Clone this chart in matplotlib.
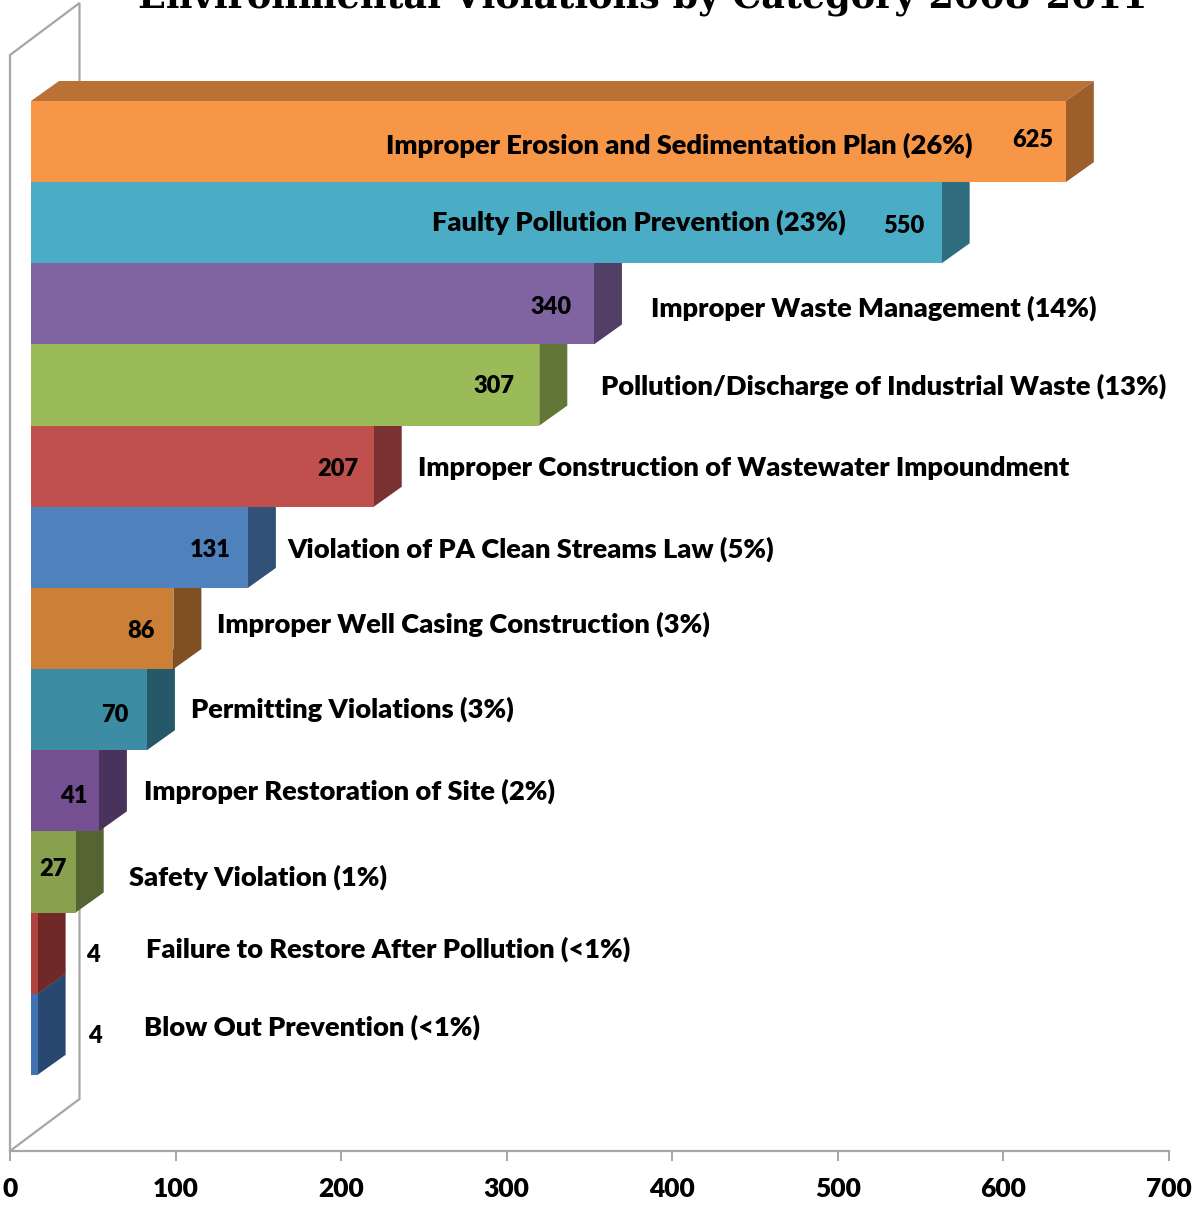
import matplotlib
matplotlib.use("Agg")
import matplotlib.pyplot as plt
from matplotlib.patches import Polygon
import matplotlib.colors as mc

categories = ["Improper Erosion and Sedimentation Plan (26%)", "Faulty Pollution Prevention (23%)",
              "Improper Waste Management (14%)", "Pollution/Discharge of Industrial Waste (13%)",
              "Improper Construction of Wastewater Impoundment", "Violation of PA Clean Streams Law (5%)",
              "Improper Well Casing Construction (3%)", "Permitting Violations (3%)",
              "Improper Restoration of Site (2%)", "Safety Violation (1%)",
              "Failure to Restore After Pollution (<1%)", "Blow Out Prevention (<1%)"]
values = [625, 550, 340, 307, 207, 131, 86, 70, 41, 27, 4, 4]
colors = ["#F79646", "#4BACC6", "#8064A2", "#9BBB59", "#C0504D", "#4F81BD",
          "#CC7F36", "#3C8DA3", "#744F91", "#87A14F", "#B0433F", "#3F73B2"]
xticks = [0, 100, 200, 300, 400, 500, 600, 700]
title = "Environmental Violations by Category 2008-2011"
label_px = [(972, 145, 'right'), (846, 222, 'right'), (651, 308, 'left'), (601, 386, 'left'),
            (418, 468, 'left'), (287, 549, 'left'), (217, 624, 'left'), (191, 709, 'left'),
            (144, 791, 'left'), (129, 877, 'left'), (146, 949, 'left'), (144, 1027, 'left')]
val_px = [(1033, 140), (904, 226), (551, 307), (494, 386), (338, 469), (210, 550),
          (141, 631), (115, 715), (74, 796), (53, 869), (93, 955), (95, 1036)]

W, H = 1197, 1205
plt.rcParams['font.family'] = ['Lato', 'DejaVu Sans']
fig = plt.figure(figsize=(W/100, H/100), dpi=100)
x0, x1, ybase = 10, 1169, 1151
ax = fig.add_axes([x0/W, 1-ybase/H, (x1-x0)/W, ybase/H])
ax.set_xlim(0, 700)
ax.set_ylim(ybase, 0)  # vertical scale in pixels of the slot layout
for s in ['top', 'left', 'right']:
    ax.spines[s].set_visible(False)
ax.spines['bottom'].set_color('#A6A6A6')
ax.spines['bottom'].set_linewidth(1.6)
ax.set_yticks([])
ax.set_xticks(xticks)
ax.tick_params(axis='x', length=7, width=1.4, color='#A6A6A6', pad=12)
ax.set_xticklabels([str(t) for t in xticks], fontsize=19, fontweight='heavy')

ux = 700/(x1-x0)
off = 21*ux; dx = 28*ux; dy = 20
slot = 81.15; top0 = 101

# wall
wall_w = 69.5*ux
ax.add_patch(Polygon([(0, ybase), (0, 55), (wall_w, 3), (wall_w, ybase-52)], closed=True,
                     fc='white', ec='#A6A6A6', lw=1.6, clip_on=False, zorder=1))

def shade(c, f):
    r, g, b = mc.to_rgb(c)
    return (r*f, g*f, b*f)

for i in range(len(values)-1, -1, -1):
    v = values[i]; c = colors[i]
    y = top0 + slot*i
    z = 2 + (len(values)-i)
    xr = off + v
    ax.add_patch(Polygon([(off, y), (xr, y), (xr+dx, y-dy), (off+dx, y-dy)], fc=shade(c, .75), lw=0, zorder=z))
    ax.add_patch(Polygon([(xr, y), (xr+dx, y-dy), (xr+dx, y+slot-dy), (xr, y+slot)], fc=shade(c, .63), lw=0, zorder=z))
    ax.barh(y+slot/2, v, left=off, height=slot, color=c, lw=0, zorder=z)

for name, (px, py, ha) in zip(categories, label_px):
    fig.text(px/W, 1-py/H, name, ha=ha, va='center', fontsize=19.6, fontweight='heavy', color='black', zorder=30)
for v, (px, py) in zip(values, val_px):
    fig.text(px/W, 1-py/H, str(v), ha='center', va='center', fontsize=17, fontweight='heavy', color='black', zorder=30)

fig.text(643/W, 1-8/H, title, ha='center', va='baseline', fontsize=26.4, fontweight='bold',
         family=['DejaVu Serif'])
fig.savefig('out.png', dpi=100)
